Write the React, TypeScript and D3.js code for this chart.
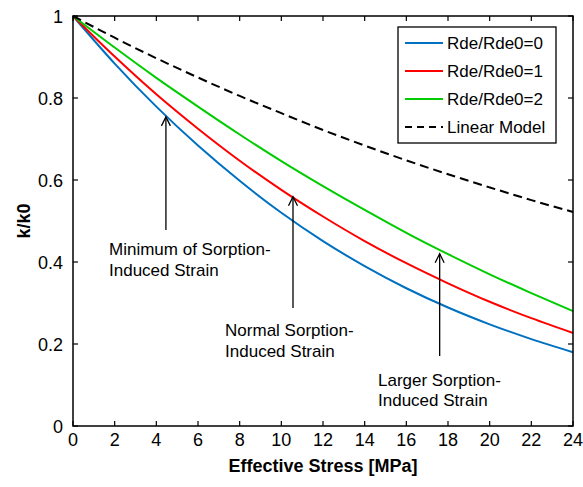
import React from "react";
import * as d3 from "d3";

const stressTicks = [0, 2, 4, 6, 8, 10, 12, 14, 16, 18, 20, 22, 24];
const kTicks = [0, 0.2, 0.4, 0.6, 0.8, 1];
const kTickLabels = ["0", "0.2", "0.4", "0.6", "0.8", "1"];

const stress = [0, 2, 4, 6, 8, 10, 12, 14, 16, 18, 20, 22, 24];
const rde0 = [1, 0.884, 0.779, 0.684, 0.598, 0.52, 0.451, 0.39, 0.336, 0.289, 0.248, 0.212, 0.18];
const rde1 = [1, 0.901, 0.809, 0.725, 0.647, 0.576, 0.511, 0.451, 0.397, 0.348, 0.303, 0.263, 0.227];
const rde2 = [1, 0.923, 0.849, 0.779, 0.711, 0.646, 0.585, 0.527, 0.471, 0.419, 0.37, 0.324, 0.28];
const linearModel = [1, 0.947, 0.897, 0.85, 0.805, 0.763, 0.722, 0.684, 0.648, 0.614, 0.582, 0.551, 0.522];

const seriesNames = ["Rde/Rde0=0", "Rde/Rde0=1", "Rde/Rde0=2", "Linear Model"];
const seriesValues = [rde0, rde1, rde2, linearModel];
const seriesColors = ["#0070C0", "#FF0000", "#00CC00", "#000000"];
const seriesDash = [null, null, null, "9,5"];

const arrowX = [4.46, 10.56, 17.6];
const arrowTip = [0.754, 0.559, 0.42];
const arrowBase = [0.478, 0.288, 0.171];
const noteX = [1.73, 7.3, 14.64];
const noteY = [0.417, 0.2195, 0.0976];
const noteLine1 = ["Minimum of Sorption-", "Normal Sorption-", "Larger Sorption-"];
const noteLine2 = ["Induced Strain", "Induced Strain", "Induced Strain"];

const W = 583;
const H = 487;
const L = 73, R = 573, T = 16, B = 426;
const FONT = "'Liberation Sans', Arial, sans-serif";

export default function App() {
  const x = d3.scaleLinear().domain([0, 24]).range([L, R]);
  const y = d3.scaleLinear().domain([0, 1]).range([B, T]);
  const line = d3
    .line<number>()
    .x((_, i) => x(stress[i]))
    .y((d) => y(d))
    .curve(d3.curveMonotoneX);
  const tl = 5;

  return (
    <svg width={W} height={H} style={{ position: "absolute", left: 0, top: 0, background: "#fff" }} fontFamily={FONT}>
      <rect x={0} y={0} width={W} height={H} fill="#fff" />
      {/* series */}
      {seriesValues.map((vals, i) => (
        <path
          key={i}
          d={line(vals) || ""}
          fill="none"
          stroke={seriesColors[i]}
          strokeWidth={2}
          strokeDasharray={seriesDash[i] || undefined}
        />
      ))}
      {/* frame */}
      <rect x={L} y={T} width={R - L} height={B - T} fill="none" stroke="#000" strokeWidth={1.5} />
      {/* ticks */}
      {stressTicks.map((t) => (
        <g key={"xt" + t}>
          <line x1={x(t)} x2={x(t)} y1={B} y2={B - tl} stroke="#000" strokeWidth={1.2} />
          <line x1={x(t)} x2={x(t)} y1={T} y2={T + tl} stroke="#000" strokeWidth={1.2} />
          <text x={x(t)} y={446} fontSize={18} textAnchor="middle">{t}</text>
        </g>
      ))}
      {kTicks.map((t, i) => (
        <g key={"yt" + t}>
          <line x1={L} x2={L + tl} y1={y(t)} y2={y(t)} stroke="#000" strokeWidth={1.2} />
          <line x1={R} x2={R - tl} y1={y(t)} y2={y(t)} stroke="#000" strokeWidth={1.2} />
          <text x={63} y={y(t) + 6.5} fontSize={18} textAnchor="end">{kTickLabels[i]}</text>
        </g>
      ))}
      {/* axis titles */}
      <text x={(L + R) / 2} y={472} fontSize={18} fontWeight="bold" textAnchor="middle">Effective Stress [MPa]</text>
      <text transform={`translate(30,${(T + B) / 2}) rotate(-90)`} fontSize={18} fontWeight="bold" textAnchor="middle">k/k0</text>
      {/* annotations */}
      {arrowX.map((ax, i) => {
        const px = x(ax);
        const tip = y(arrowTip[i]);
        return (
          <g key={"ar" + i}>
            <line x1={px} x2={px} y1={tip} y2={y(arrowBase[i])} stroke="#000" strokeWidth={1.3} />
            <path d={`M${px - 4.5},${tip + 9} L${px},${tip} L${px + 4.5},${tip + 9}`} fill="none" stroke="#000" strokeWidth={1.3} />
            <text x={x(noteX[i])} y={y(noteY[i])} fontSize={17}>{noteLine1[i]}</text>
            <text x={x(noteX[i])} y={y(noteY[i]) + 20.5} fontSize={17}>{noteLine2[i]}</text>
          </g>
        );
      })}
      {/* legend */}
      <rect x={398} y={27} width={158} height={116} fill="#fff" stroke="#000" strokeWidth={1.3} />
      {seriesNames.map((n, i) => {
        const ly = 43 + i * 28;
        return (
          <g key={"lg" + i}>
            <line x1={405} x2={443} y1={ly} y2={ly} stroke={seriesColors[i]} strokeWidth={2} strokeDasharray={seriesDash[i] ? "7,5" : undefined} />
            <text x={447} y={ly + 6} fontSize={17}>{n}</text>
          </g>
        );
      })}
    </svg>
  );
}
